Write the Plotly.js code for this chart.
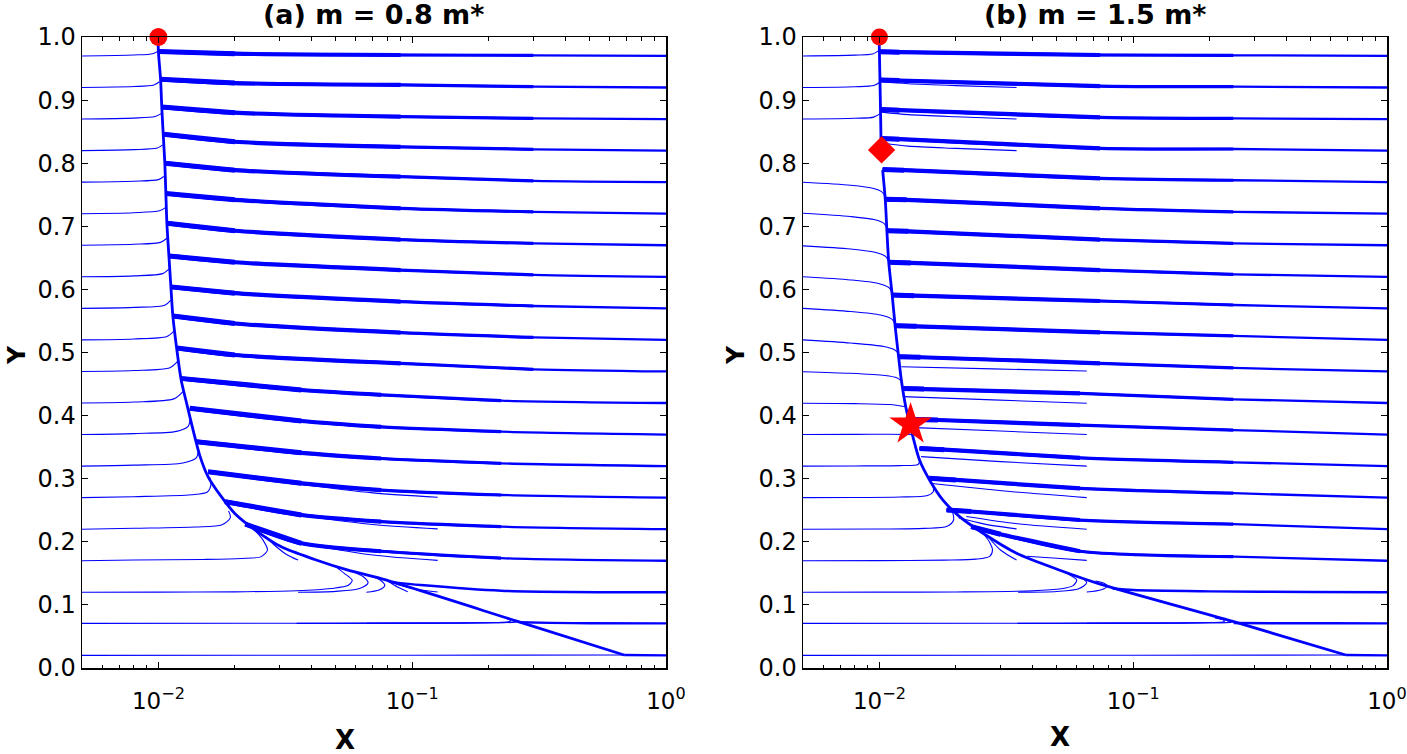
<!DOCTYPE html>
<html><head><meta charset="utf-8">
<script src="https://cdn.plot.ly/plotly-3.0.1.min.js"></script>
<style>html,body{margin:0;padding:0;background:#fff}#plot{width:1407px;height:754px}</style>
</head><body><div id="plot"></div>
<script>
// ---------- DATA ----------
const xTickVals = [0.01, 0.1, 1];
const xTickText = ['10<sup>−2</sup>', '10<sup>−1</sup>', '10<sup>0</sup>'];
const xMinorVals = [0.006,0.007,0.008,0.009,0.02,0.03,0.04,0.05,0.06,0.07,0.08,0.09,0.2,0.3,0.4,0.5,0.6,0.7,0.8,0.9];
const yTickVals = [0,0.1,0.2,0.3,0.4,0.5,0.6,0.7,0.8,0.9,1.0];
const yTickText = ['0.0','0.1','0.2','0.3','0.4','0.5','0.6','0.7','0.8','0.9','1.0'];
const titleA = '(a) m = 0.8 m*';
const titleB = '(b) m = 1.5 m*';

// Panel (a): attracting curve
const aManX = [0.00997,0.0100,0.0102,0.01031,0.01045,0.0106,0.0107,0.0108,0.0110,0.0112,0.0114,0.0118,0.0123,0.0130,0.0137,0.0146,0.0157,0.0177,0.0200,0.0240,0.0305,0.0413,0.0559,0.0755,0.26,0.684];
const aManY = [1.0,0.977,0.933,0.889,0.845,0.80,0.752,0.705,0.653,0.604,0.558,0.507,0.456,0.415,0.377,0.335,0.303,0.2715,0.245,0.219,0.192,0.172,0.155,0.1415,0.0739,0.0206];
// Panel (a): trajectories arriving from x = 1 (bundles)
const aRight = [
 [[0.0100,0.02,0.09,0.3,1],[0.977,0.9735,0.9715,0.971,0.970]],
 [[0.0102,0.02,0.09,0.3,1],[0.933,0.927,0.924,0.9213,0.920]],
 [[0.0103,0.02,0.09,0.3,1],[0.889,0.880,0.8737,0.871,0.870]],
 [[0.01047,0.02,0.09,0.3,1],[0.846,0.834,0.826,0.822,0.820]],
 [[0.0106,0.02,0.09,0.3,1],[0.800,0.789,0.7786,0.772,0.770]],
 [[0.0107,0.02,0.09,0.3,1],[0.752,0.742,0.7285,0.723,0.720]],
 [[0.0108,0.02,0.09,0.3,1],[0.705,0.693,0.679,0.673,0.670]],
 [[0.0110,0.02,0.09,0.3,1],[0.653,0.643,0.6307,0.623,0.620]],
 [[0.0112,0.02,0.09,0.3,1],[0.604,0.594,0.5805,0.5737,0.570]],
 [[0.0114,0.02,0.09,0.3,1],[0.558,0.546,0.5314,0.524,0.520]],
 [[0.0118,0.02,0.09,0.3,1],[0.507,0.496,0.4829,0.4734,0.470]],
 [[0.0122,0.0366,0.0755,0.224,1],[0.459,0.4406,0.433,0.4237,0.420]],
 [[0.0133,0.0366,0.0755,0.224,1],[0.4115,0.3914,0.382,0.3745,0.370]],
 [[0.0141,0.0366,0.0755,0.224,1],[0.3587,0.341,0.332,0.3244,0.320]],
 [[0.0157,0.0366,0.0755,0.224,1],[0.311,0.2927,0.282,0.2742,0.270]],
 [[0.0183,0.0366,0.0755,0.224,1],[0.2636,0.2425,0.232,0.224,0.220]],
 [[0.022,0.0366,0.0755,0.224,1],[0.228,0.1976,0.185,0.174,0.170]],
 [[0.083,0.108,0.224,1],[0.1361,0.1315,0.1225,0.120]],
 [[0.265,0.35,0.5,1],[0.0724,0.0715,0.071,0.0708]],
 [[0.684,1],[0.0206,0.020]]
];
// Panel (a): trajectories starting at x = 0.005
const aLeft = [
 [[0.005,0.008,0.0095,0.0100],[0.970,0.9715,0.9735,0.978]],
 [[0.005,0.008,0.0096,0.0101],[0.920,0.9215,0.924,0.929]],
 [[0.005,0.008,0.0097,0.0103],[0.870,0.8715,0.874,0.879]],
 [[0.005,0.008,0.0099,0.0104],[0.820,0.8215,0.824,0.829]],
 [[0.005,0.008,0.0100,0.0105],[0.770,0.7715,0.774,0.779]],
 [[0.005,0.008,0.0101,0.0107],[0.720,0.7215,0.7245,0.730]],
 [[0.005,0.008,0.0102,0.0108],[0.670,0.6715,0.6745,0.681]],
 [[0.005,0.008,0.0104,0.0110],[0.620,0.6215,0.625,0.632]],
 [[0.005,0.008,0.0106,0.0112],[0.570,0.5715,0.575,0.583]],
 [[0.005,0.008,0.0108,0.0115],[0.520,0.5215,0.5255,0.534]],
 [[0.005,0.008,0.0111,0.0119],[0.470,0.4715,0.476,0.486]],
 [[0.005,0.008,0.0115,0.0125],[0.420,0.4215,0.4265,0.438]],
 [[0.005,0.008,0.0118,0.0131,0.01335],[0.370,0.3715,0.375,0.383,0.396]],
 [[0.005,0.008,0.0125,0.0141,0.0144],[0.320,0.3215,0.325,0.333,0.346]],
 [[0.005,0.008,0.0135,0.0156,0.0161,0.0159],[0.270,0.2715,0.2745,0.279,0.290,0.303]],
 [[0.005,0.008,0.014,0.0178,0.0192,0.0189],[0.220,0.2215,0.2235,0.227,0.238,0.249]],
 [[0.005,0.008,0.015,0.0212,0.0254,0.0269,0.0258,0.0240],[0.170,0.1712,0.172,0.1735,0.1765,0.187,0.203,0.218]]
];
// Panel (a): other thin trajectories (starts at 0.005, 0.035, 0.066, 0.096, 0.126)
const aExtra = [
 [[0.005,0.01,0.02,0.035,0.048,0.056,0.058,0.054,0.049],[0.120,0.1202,0.1207,0.1225,0.126,0.131,0.139,0.150,0.163]],
 [[0.0355,0.05,0.062,0.067,0.064,0.058],[0.120,0.1215,0.126,0.135,0.145,0.153]],
 [[0.066,0.074,0.078,0.075,0.07],[0.120,0.1235,0.131,0.139,0.145]],
 [[0.126,0.105,0.09,0.08],[0.1205,0.1245,0.131,0.138]],
 [[0.096,0.088,0.08],[0.121,0.128,0.138]],
 [[0.0355,0.032,0.029,0.0265],[0.171,0.18,0.193,0.208]],
 [[0.126,0.07,0.04],[0.1705,0.179,0.195]],
 [[0.126,0.07,0.035],[0.2205,0.2275,0.2425]],
 [[0.126,0.07,0.035],[0.2705,0.2775,0.292]],
 [[0.005,0.05,0.15,0.21,0.24,0.244,0.235],[0.0708,0.071,0.0714,0.072,0.0732,0.0752,0.079]],
 [[0.035,0.1,0.2,0.245,0.255,0.25],[0.0708,0.0711,0.0718,0.0728,0.074,0.0755]],
 [[0.066,0.15,0.22,0.255,0.262,0.26],[0.0708,0.0711,0.0716,0.0724,0.0732,0.0737]],
 [[0.005,0.1,0.684],[0.020,0.0202,0.0206]]
];
const aDotX = [0.01], aDotY = [1.0];

// Panel (b): attracting curve (upper part and lower part)
const bManTopX = [0.00997,0.0100,0.01005,0.0101,0.01015];
const bManTopY = [1.0,0.977,0.932,0.885,0.835];
const bManX = [0.0103,0.01055,0.0107,0.01088,0.01123,0.01154,0.0119,0.0122,0.0127,0.01355,0.01439,0.01576,0.0178,0.0207,0.0256,0.0347,0.0514,0.0741,0.249,0.688];
const bManY = [0.789,0.7417,0.694,0.644,0.591,0.541,0.4934,0.4564,0.414,0.3666,0.3296,0.298,0.266,0.2398,0.2135,0.1818,0.155,0.133,0.0734,0.0206];
const bRight = [
 [[0.0100,0.012,0.074,0.248,1],[0.9767,0.976,0.9715,0.971,0.970]],
 [[0.01005,0.012,0.074,0.248,1],[0.932,0.931,0.9223,0.9213,0.920]],
 [[0.0101,0.012,0.074,0.248,1],[0.885,0.884,0.8727,0.871,0.870]],
 [[0.01015,0.012,0.074,0.248,1],[0.839,0.838,0.8236,0.8225,0.820]],
 [[0.0103,0.0125,0.074,0.248,1],[0.790,0.789,0.776,0.773,0.770]],
 [[0.01055,0.0128,0.074,0.248,1],[0.7427,0.742,0.7285,0.723,0.720]],
 [[0.0107,0.013,0.074,0.248,1],[0.693,0.692,0.679,0.673,0.670]],
 [[0.01088,0.0133,0.074,0.248,1],[0.643,0.642,0.6307,0.6238,0.620]],
 [[0.01123,0.0137,0.074,0.248,1],[0.591,0.590,0.5816,0.5753,0.570]],
 [[0.01154,0.014,0.074,0.248,1],[0.5425,0.5415,0.532,0.5262,0.520]],
 [[0.0119,0.0145,0.074,0.248,1],[0.4934,0.4925,0.4829,0.4755,0.470]],
 [[0.0123,0.015,0.0617,0.248,1],[0.443,0.442,0.4353,0.4258,0.420]],
 [[0.0137,0.017,0.0617,0.248,1],[0.394,0.393,0.385,0.377,0.370]],
 [[0.0144,0.018,0.0617,0.248,1],[0.348,0.346,0.333,0.326,0.320]],
 [[0.0157,0.02,0.0617,0.248,1],[0.3006,0.298,0.2847,0.277,0.270]],
 [[0.0184,0.023,0.0617,0.248,1],[0.2504,0.248,0.2345,0.228,0.220]],
 [[0.023,0.03,0.0617,0.248,1],[0.224,0.212,0.185,0.1764,0.170]],
 [[0.083,0.1,0.2,0.5,1],[0.126,0.1235,0.1215,0.1205,0.120]],
 [[0.249,0.35,0.6,1],[0.0712,0.071,0.0709,0.0708]],
 [[0.688,1],[0.0206,0.020]]
];
const bLeft = [
 [[0.005,0.008,0.0094,0.0099],[0.970,0.9712,0.973,0.978]],
 [[0.005,0.008,0.0095,0.0100],[0.920,0.9212,0.923,0.928]],
 [[0.005,0.008,0.0095,0.0101],[0.870,0.8712,0.873,0.879]],
 [[0.005,0.0077,0.0095,0.0102,0.01052],[0.7697,0.765,0.760,0.755,0.748]],
 [[0.005,0.0077,0.0096,0.0104,0.01068],[0.7206,0.7155,0.7105,0.705,0.698]],
 [[0.005,0.0077,0.0097,0.0106,0.01085],[0.669,0.664,0.6585,0.652,0.645]],
 [[0.005,0.0077,0.0099,0.0109,0.0112],[0.620,0.615,0.6095,0.603,0.596]],
 [[0.005,0.0077,0.0101,0.0112,0.0115],[0.570,0.565,0.5595,0.553,0.546]],
 [[0.005,0.0077,0.0104,0.0115,0.01185],[0.520,0.515,0.5095,0.504,0.499]],
 [[0.005,0.0077,0.0105,0.0117,0.0122],[0.4696,0.467,0.4635,0.460,0.455]],
 [[0.005,0.008,0.011,0.0127],[0.4195,0.419,0.4175,0.414]],
 [[0.005,0.008,0.011,0.01348],[0.370,0.3702,0.3705,0.370]],
 [[0.005,0.008,0.012,0.0142,0.0144],[0.320,0.3202,0.3208,0.3225,0.328]],
 [[0.005,0.008,0.012,0.0155,0.0163,0.0163],[0.270,0.2702,0.271,0.2735,0.2795,0.2885]],
 [[0.005,0.01,0.015,0.0185,0.0196,0.0193],[0.220,0.2203,0.2212,0.2245,0.2345,0.251]],
 [[0.005,0.01,0.018,0.024,0.0272,0.0279,0.0272,0.0256],[0.170,0.1702,0.171,0.1725,0.177,0.187,0.199,0.2135]]
];
const bExtra = [
 [[0.0347,0.02,0.013,0.0101],[0.920,0.923,0.926,0.929]],
 [[0.0347,0.02,0.013,0.0102],[0.870,0.8735,0.877,0.881]],
 [[0.0347,0.02,0.013,0.0103],[0.820,0.8235,0.827,0.832]],
 [[0.0656,0.028,0.0122],[0.4707,0.474,0.4775]],
 [[0.0656,0.028,0.0124],[0.4195,0.425,0.430]],
 [[0.0656,0.03,0.0138],[0.370,0.3755,0.381]],
 [[0.0656,0.03,0.0146],[0.320,0.327,0.335]],
 [[0.0656,0.032,0.0158],[0.270,0.280,0.2927]],
 [[0.0656,0.035,0.022],[0.220,0.2285,0.240]],
 [[0.0347,0.026,0.0205],[0.2205,0.228,0.238]],
 [[0.0347,0.03,0.0265],[0.171,0.187,0.210]],
 [[0.0656,0.05,0.038],[0.1705,0.174,0.177]],
 [[0.005,0.01,0.02,0.04,0.052,0.058,0.0599,0.057,0.052],[0.120,0.1202,0.1205,0.1222,0.1255,0.1305,0.1395,0.146,0.154]],
 [[0.0352,0.05,0.061,0.0656,0.063,0.058],[0.120,0.1212,0.1255,0.135,0.142,0.148]],
 [[0.0656,0.075,0.079,0.076,0.071],[0.1205,0.124,0.13,0.135,0.138]],
 [[0.005,0.05,0.15,0.2,0.228,0.228,0.21],[0.0708,0.071,0.0714,0.072,0.0735,0.0755,0.0793]],
 [[0.035,0.1,0.2,0.235,0.242,0.238],[0.0708,0.0711,0.0717,0.0722,0.0727,0.0735]],
 [[0.0656,0.15,0.22,0.244],[0.0708,0.0711,0.0716,0.0721]],
 [[0.005,0.1,0.688],[0.020,0.0202,0.0206]]
];
const bDotX = [0.01], bDotY = [1.0];
const bDiamondX = [0.0102], bDiamondY = [0.821];
const bStarX = [0.01327], bStarY = [0.386];

// ---------- BUILD ----------
const BLUE = 'rgb(0,0,255)';
const RED = 'rgb(255,0,0)';
const traces = [];
function line(xs, ys, w, ax) {
  traces.push({type:'scatter', mode:'lines', x:xs, y:ys, xaxis:ax[0], yaxis:ax[1],
    line:{color:BLUE, width:w, shape:'spline', smoothing:0.8}, hoverinfo:'skip', showlegend:false});
}
function panel(man, right, left, extra, ax) {
  left.forEach(t => line(t[0], t[1], 1.1, ax));
  extra.forEach(t => line(t[0], t[1], 1.1, ax));
  right.forEach((t, i) => {
    const n = t[0].length;
    if (n === 5 && i < 17) {
      // bundle of converging trajectories: thicker toward the attracting curve
      line(t[0], t[1], 2.3, ax);
      line(t[0].slice(0, 4), t[1].slice(0, 4), 3.2, ax);
      line(t[0].slice(0, 3), t[1].slice(0, 3), 4.2, ax);
      line(t[0].slice(0, 2), t[1].slice(0, 2), 5.0, ax);
    } else {
      line(t[0], t[1], 2.4, ax);
    }
  });
  man.forEach(m => line(m[0], m[1], 2.8, ax));
}
panel([[aManX, aManY]], aRight, aLeft, aExtra, ['x','y']);
panel([[bManTopX, bManTopY],[bManX, bManY]], bRight, bLeft, bExtra, ['x2','y2']);

function marker(xs, ys, sym, size, ax) {
  traces.push({type:'scatter', mode:'markers', x:xs, y:ys, xaxis:ax[0], yaxis:ax[1], cliponaxis:false,
    marker:{color:RED, symbol:sym, size:size, line:{width:0}}, hoverinfo:'skip', showlegend:false});
}
marker(aDotX, aDotY, 'circle', 18, ['x','y']);
marker(bDotX, bDotY, 'circle', 17, ['x2','y2']);
marker(bDiamondX, bDiamondY, 'diamond', 21, ['x2','y2']);
marker(bStarX, bStarY, 'star', 32, ['x2','y2']);

const W = 1407, H = 754;
const FONT = 'DejaVu Sans';
function xAxis(d0, d1, anchor) {
  return {type:'log', range:[Math.log10(0.005), 0], domain:[d0/W, d1/W], anchor:anchor,
    tickmode:'array', tickvals:xTickVals, ticktext:xTickText,
    ticks:'inside', ticklen:6, tickwidth:1, tickcolor:'#000', ticklabelstandoff:12,
    ticklabeloverflow:'allow',
    minor:{tickmode:'array', tickvals:xMinorVals, ticks:'inside', ticklen:3.5, tickwidth:1, tickcolor:'#000', showgrid:false},
    mirror:'allticks', showline:true, linecolor:'#000', linewidth:1.5,
    showgrid:false, zeroline:false, tickfont:{family:FONT, size:23, color:'#000'}};
}
function yAxis(anchor) {
  return {range:[0, 1], domain:[(H-668)/H, (H-37)/H], anchor:anchor,
    tickmode:'array', tickvals:yTickVals, ticktext:yTickText,
    ticks:'inside', ticklen:6, tickwidth:1, tickcolor:'#000',
    mirror:'allticks', showline:true, linecolor:'#000', linewidth:1.5,
    showgrid:false, zeroline:false, tickfont:{family:FONT, size:24, color:'#000'}};
}
function ann(text, px, py, size, angle) {
  return {text:text, x:px/W, y:1-py/H, xref:'paper', yref:'paper', showarrow:false,
    xanchor:'center', yanchor:'middle', textangle:angle||0,
    font:{family:FONT, size:size, color:'#000', weight:'bold'}};
}
const layout = {
  width:W, height:H, margin:{l:0, r:0, t:0, b:0},
  paper_bgcolor:'#fff', plot_bgcolor:'#fff', showlegend:false, hovermode:false,
  xaxis:xAxis(82, 666, 'y'), yaxis:yAxis('x'),
  xaxis2:xAxis(803, 1387, 'y2'), yaxis2:yAxis('x2'),
  annotations:[
    ann(titleA, 373, 15, 27), ann(titleB, 1095, 15, 27),
    ann('Y', 16, 355, 25, -90), ann('Y', 735, 355, 25, -90),
    ann('X', 345, 740, 26), ann('X', 1060, 737, 26)
  ]
};
Plotly.newPlot('plot', traces, layout, {staticPlot:true, displayModeBar:false});
</script>
</body></html>
